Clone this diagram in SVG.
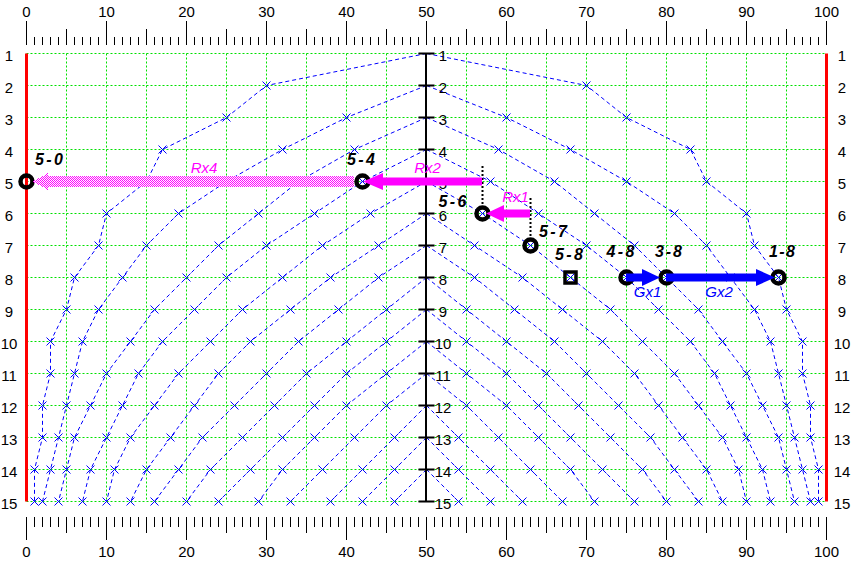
<svg xmlns="http://www.w3.org/2000/svg" xmlns:xlink="http://www.w3.org/1999/xlink" width="853" height="563" viewBox="0 0 853 563">
<style>
.grid{stroke:#00e000;stroke-width:1;stroke-dasharray:2 2;fill:none}
.curve{stroke:#0000ff;stroke-width:1;stroke-dasharray:4 3;fill:none;marker-mid:url(#xm);marker-end:url(#xm)}
.tk{stroke:#000;fill:none}
.num{font-family:"Liberation Sans",Arial,Helvetica,sans-serif;font-size:15px;fill:#000;text-anchor:middle}
.lbl{font-family:"Liberation Sans",Arial,Helvetica,sans-serif;font-size:16px;font-weight:bold;font-style:italic;fill:#000;text-anchor:middle}
.alab{font-family:"Liberation Sans",Arial,Helvetica,sans-serif;font-size:15px;font-style:italic;text-anchor:middle}
.node{fill:none;stroke:#000;stroke-width:4.5}
.sq{fill:none;stroke:#000;stroke-width:3.5}
.mag{fill:#ff00ff}
.blu{fill:#0000ff}
.dotv{stroke:#000;stroke-width:2;stroke-dasharray:2 2;fill:none}
.stip{stroke:#ff00ff;stroke-width:1;stroke-dasharray:1 1;fill:none}
</style>
<defs>
<marker id="xm" markerUnits="userSpaceOnUse" markerWidth="10" markerHeight="10" refX="5" refY="5" orient="0" overflow="visible">
<path d="M1,1L9,9M1,9L9,1" stroke="#0000ff" stroke-width="1" fill="none"/>
</marker>
<g id="half">
<polyline class="curve" points="426,53 266,85 226,117 162,149 146,181 106,213 98,245 74,277 66,309 50,341 50,373 42,405 42,437 34,469 34,501"/>
<polyline class="curve" points="426,85 346,117 282,149 226,181 178,213 146,245 122,277 98,309 82,341 74,373 66,405 58,437 50,469 42,501"/>
<polyline class="curve" points="426,117 354,149 298,181 258,213 218,245 186,277 154,309 130,341 106,373 90,405 74,437 66,469 58,501"/>
<polyline class="curve" points="426,149 362,181 314,213 266,245 226,277 194,309 162,341 138,373 122,405 106,437 90,469 82,501"/>
<polyline class="curve" points="426,181 370,213 322,245 282,277 242,309 210,341 178,373 154,405 130,437 114,469 106,501"/>
<polyline class="curve" points="426,213 378,245 330,277 290,309 250,341 218,373 194,405 170,437 146,469 130,501"/>
<polyline class="curve" points="426,245 378,277 338,309 298,341 266,373 234,405 202,437 178,469 154,501"/>
<polyline class="curve" points="426,277 386,309 346,341 306,373 274,405 242,437 210,469 186,501"/>
<polyline class="curve" points="426,309 386,341 346,373 314,405 282,437 250,469 218,501"/>
<polyline class="curve" points="426,341 386,373 346,405 314,437 282,469 258,501"/>
<polyline class="curve" points="426,373 386,405 354,437 322,469 290,501"/>
<polyline class="curve" points="426,405 394,437 362,469 330,501"/>
<polyline class="curve" points="426,437 394,469 362,501"/>
<polyline class="curve" points="426,469 394,501"/>
</g>
</defs>
<rect width="853" height="563" fill="#ffffff"/>
<g transform="translate(0.5,0.5)">
<g id="grid">
<path class="grid" d="M26,53H826M26,85H826M26,117H826M26,149H826M26,181H826M26,213H826M26,245H826M26,277H826M26,309H826M26,341H826M26,373H826M26,405H826M26,437H826M26,469H826M26,501H826"/>
<path class="grid" d="M66,53V501M106,53V501M146,53V501M186,53V501M226,53V501M266,53V501M306,53V501M346,53V501M386,53V501M466,53V501M506,53V501M546,53V501M586,53V501M626,53V501M666,53V501M706,53V501M746,53V501M786,53V501"/>
</g>
<g id="rulers">
<path class="tk" d="M25.5,40.5H826.5" stroke-width="8" stroke-dasharray="1 7"/>
<path class="tk" d="M65.5,36.5H826.5" stroke-width="16" stroke-dasharray="1 79"/>
<path class="tk" d="M25.5,32.5H826.5" stroke-width="24" stroke-dasharray="1 79"/>
<path class="tk" d="M25.5,521.5H826.5" stroke-width="10" stroke-dasharray="1 7"/>
<path class="tk" d="M65.5,524.5H826.5" stroke-width="16" stroke-dasharray="1 79"/>
<path class="tk" d="M25.5,528H826.5" stroke-width="23" stroke-dasharray="1 79"/>
</g>
<g id="connectors">
<use xlink:href="#half" href="#half"/>
<use xlink:href="#half" href="#half" transform="matrix(-1 0 0 1 852 0)"/>
</g>
<g id="edges">
<path d="M26,53V501M826,53V501" stroke="#ff0000" stroke-width="3" fill="none"/>
</g>
<g id="axis">
<path d="M425.5,53V501" stroke="#000" stroke-width="2"/>
<path d="M418,53H434M418,85H434M418,117H434M418,149H434M418,181H434M418,213H434M418,245H434M418,277H434M418,309H434M418,341H434M418,373H434M418,405H434M418,437H434M418,469H434M418,501H434" stroke="#000" stroke-width="2"/>
</g>
</g>
<g id="ruler-labels" class="num">
<text x="26.5" y="17">0</text><text x="106.5" y="17">10</text><text x="186.5" y="17">20</text><text x="266.5" y="17">30</text><text x="346.5" y="17">40</text><text x="426.5" y="17">50</text><text x="506.5" y="17">60</text><text x="586.5" y="17">70</text><text x="666.5" y="17">80</text><text x="746.5" y="17">90</text><text x="826.5" y="17">100</text>
<text x="26.5" y="557">0</text><text x="106.5" y="557">10</text><text x="186.5" y="557">20</text><text x="266.5" y="557">30</text><text x="346.5" y="557">40</text><text x="426.5" y="557">50</text><text x="506.5" y="557">60</text><text x="586.5" y="557">70</text><text x="666.5" y="557">80</text><text x="746.5" y="557">90</text><text x="826.5" y="557">100</text>
</g>
<g id="row-labels" class="num">
<text x="9" y="61">1</text><text x="9" y="93">2</text><text x="9" y="125">3</text><text x="9" y="157">4</text><text x="9" y="189">5</text><text x="9" y="221">6</text><text x="9" y="253">7</text><text x="9" y="285">8</text><text x="9" y="317">9</text><text x="9" y="349">10</text><text x="9" y="381">11</text><text x="9" y="413">12</text><text x="9" y="445">13</text><text x="9" y="477">14</text><text x="9" y="509">15</text>
<text x="842" y="61">1</text><text x="842" y="93">2</text><text x="842" y="125">3</text><text x="842" y="157">4</text><text x="842" y="189">5</text><text x="842" y="221">6</text><text x="842" y="253">7</text><text x="842" y="285">8</text><text x="842" y="317">9</text><text x="842" y="349">10</text><text x="842" y="381">11</text><text x="842" y="413">12</text><text x="842" y="445">13</text><text x="842" y="477">14</text><text x="842" y="509">15</text>
<text x="443" y="61">1</text><text x="443" y="93">2</text><text x="443" y="125">3</text><text x="443" y="157">4</text><text x="443" y="189">5</text><text x="443" y="221">6</text><text x="443" y="253">7</text><text x="443" y="285">8</text><text x="443" y="317">9</text><text x="443" y="349">10</text><text x="443" y="381">11</text><text x="443" y="413">12</text><text x="443" y="445">13</text><text x="443" y="477">14</text><text x="443" y="509">15</text>
</g>
<g id="n5-0"><circle class="node" cx="26.5" cy="181.5" r="6"/><text class="lbl" x="49" y="165" textLength="28" lengthAdjust="spacing">5-0</text></g>
<g id="n5-4"><circle class="node" cx="362.5" cy="181.5" r="6"/><text class="lbl" x="361" y="165" textLength="28" lengthAdjust="spacing">5-4</text></g>
<g id="n5-6"><circle class="node" cx="482.5" cy="213.5" r="6"/><text class="lbl" x="452.5" y="207" textLength="28" lengthAdjust="spacing">5-6</text></g>
<g id="n5-7"><circle class="node" cx="530.5" cy="245.5" r="6"/><text class="lbl" x="553" y="237" textLength="28" lengthAdjust="spacing">5-7</text></g>
<g id="n5-8"><rect class="sq" x="565" y="272" width="11" height="11"/><text class="lbl" x="569" y="260" textLength="28" lengthAdjust="spacing">5-8</text></g>
<g id="n4-8"><circle class="node" cx="626.5" cy="277.5" r="6"/><text class="lbl" x="620.5" y="257" textLength="28" lengthAdjust="spacing">4-8</text></g>
<g id="n3-8"><circle class="node" cx="666.5" cy="277.5" r="6"/><text class="lbl" x="668.5" y="257" textLength="27" lengthAdjust="spacing">3-8</text></g>
<g id="n1-8"><circle class="node" cx="778.5" cy="277.5" r="6"/><text class="lbl" x="782" y="257" textLength="26" lengthAdjust="spacing">1-8</text></g>
<g id="arrows">
<path class="dotv" d="M482.5,166V205M530.5,198V237"/>
<path fill="#ffffff" d="M354,176H47V173L33,181.5L47,190V187H354Z"/>
<path class="stip" d="M47,173.5H48M46,174.5H48M45,175.5H48M42,176.5H354M41,177.5H354M38,178.5H354M37,179.5H354M34,180.5H354M33,181.5H354M34,182.5H354M37,183.5H354M38,184.5H354M41,185.5H354M42,186.5H354M45,187.5H48M46,188.5H48M47,189.5H48"/>
<path class="mag" d="M482,177.5H383V173L363,181.5L383,190V185.5H482Z"/>
<path class="mag" d="M530,209.5H504V205L486,213.5L504,222V217.5H530Z"/>
<path class="blu" d="M626,273.5H642V269L660,277.5L642,286V281.5H626Z"/>
<path class="blu" d="M666,273.5H756V269L775,277.5L756,286V281.5H666Z"/>
<text class="alab mag" x="204" y="173">Rx4</text>
<text class="alab mag" x="427.5" y="173">Rx2</text>
<text class="alab mag" x="515.5" y="202">Rx1</text>
<text class="alab blu" x="647.5" y="297">Gx1</text>
<text class="alab blu" x="719" y="297">Gx2</text>
</g>
</svg>
